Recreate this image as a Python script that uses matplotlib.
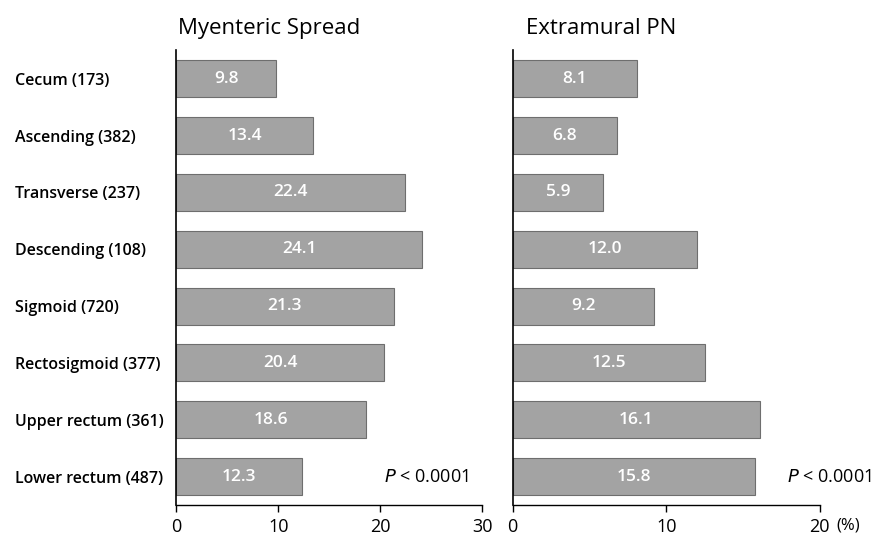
import numpy as np
import matplotlib
matplotlib.use('Agg')
import matplotlib.pyplot as plt
import matplotlib.transforms as mtrans

plt.rcParams['font.family'] = ['Open Sans', 'DejaVu Sans']

sites = ['Cecum (173)', 'Ascending (382)', 'Transverse (237)', 'Descending (108)',
         'Sigmoid (720)', 'Rectosigmoid (377)', 'Upper rectum (361)', 'Lower rectum (487)']
myenteric = [9.8, 13.4, 22.4, 24.1, 21.3, 20.4, 18.6, 12.3]
extramural = [8.1, 6.8, 5.9, 12.0, 9.2, 12.5, 16.1, 15.8]
titles = ['Myenteric Spread', 'Extramural PN']
xmax = [30, 20]
xticks = [[0, 10, 20, 30], [0, 10, 20]]

fig = plt.figure(figsize=(8.9, 5.35), dpi=100)
axes = [fig.add_axes([0.198, 0.056, 0.344, 0.85]),
        fig.add_axes([0.576, 0.056, 0.345, 0.85])]

y = np.arange(len(sites))
for i, (ax, vals) in enumerate(zip(axes, [myenteric, extramural])):
    ax.barh(y, vals, height=0.65, color='#a3a3a3', edgecolor='#6e6e6e', linewidth=0.8)
    for yy, v in zip(y, vals):
        ax.text(v / 2, yy, f'{v:.1f}', ha='center', va='center', color='white',
                fontsize=12.5, fontweight='semibold')
    ax.set_ylim(len(sites) - 0.5, -0.5)
    ax.set_xlim(0, xmax[i])
    ax.set_xticks(xticks[i])
    ax.tick_params(axis='x', labelsize=13, length=5, width=1, pad=4)
    for s in ['top', 'right']:
        ax.spines[s].set_visible(False)
    ax.spines['left'].set_linewidth(1.2)
    ax.spines['bottom'].set_linewidth(1.0)
    ax.text(0.005 if i == 0 else 0.045, 1.025, titles[i], transform=ax.transAxes,
            fontsize=16, ha='left', va='bottom')
    ax.text(xmax[i] - 1.3 if i == 0 else xmax[i] + 3.4, len(sites) - 1,
            r'$\it{P}$ < 0.0001', ha='right', va='center', fontsize=13)

axes[0].set_yticks(y)
axes[0].set_yticklabels(sites, fontsize=11.5, fontweight='semibold')
axes[0].tick_params(axis='y', length=0, pad=116)
for lab in axes[0].get_yticklabels():
    lab.set_ha('left')
axes[1].set_yticks([])

trans = mtrans.blended_transform_factory(axes[1].transData, axes[1].transAxes)
axes[1].text(21.1, -0.027, '(%)', transform=trans, ha='left', va='top', fontsize=12)

fig.savefig('out.png', dpi=100)
